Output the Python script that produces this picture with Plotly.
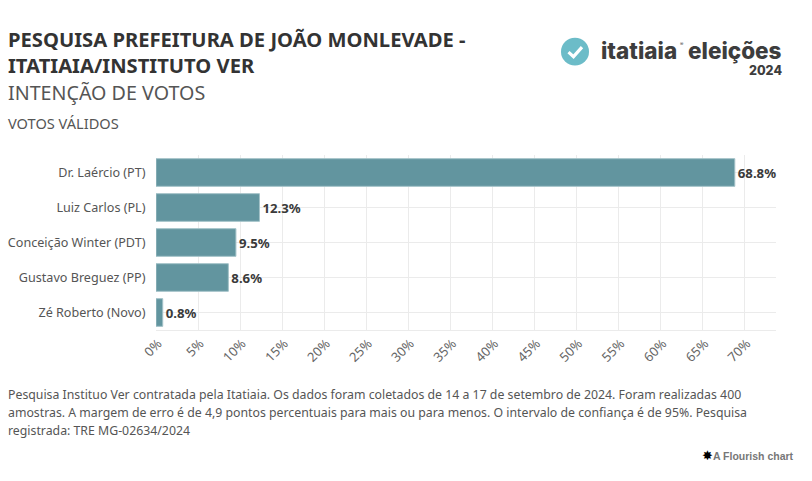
import plotly.graph_objects as go

candidates = ["Dr. Laércio (PT)", "Luiz Carlos (PL)", "Conceição Winter (PDT)", "Gustavo Breguez (PP)", "Zé Roberto (Novo)"]
values = [68.8, 12.3, 9.5, 8.6, 0.8]
labels = ["68.8%", "12.3%", "9.5%", "8.6%", "0.8%"]
ticks = list(range(0, 75, 5))
ticklabels = [f"{t}%" for t in ticks]

W, H = 812, 481
FONT = "Noto Sans"
L, R, T, B = 156, 776, 154.6, 330
def px(x): return (x - L) / (R - L)
def py(y): return (B - y) / (B - T)

fig = go.Figure(go.Bar(
    y=candidates, x=values, orientation="h",
    marker=dict(color="#62959f", line=dict(color="#a3c2c8", width=1)),
    text=labels, textposition="outside", cliponaxis=False,
    textfont=dict(family=FONT, size=13.2, color="#3a3a3a", weight=700),
    width=0.79, hoverinfo="skip",
))

def note(x, y, text, size, color="#333333", weight=400, anchor="left", family=FONT):
    fig.add_annotation(xref="paper", yref="paper", x=px(x), y=py(y), text=text, showarrow=False,
                       xanchor=anchor, yanchor="middle", align="left", borderpad=0, borderwidth=0,
                       font=dict(family=family, size=size, color=color, weight=weight))

note(8, 38.5, "PESQUISA PREFEITURA DE JOÃO MONLEVADE -", 20.2, weight=700)
note(8, 64.5, "ITATIAIA/INSTITUTO VER", 20.2, weight=700)
note(8, 92, "INTENÇÃO DE VOTOS", 19.7, color="#555555")
note(8, 123, "VOTOS VÁLIDOS", 14.6, color="#555555")
note(8, 395, "Pesquisa Instituo Ver contratada pela Itatiaia. Os dados foram coletados de 14 a 17 de setembro de 2024. Foram realizadas 400", 12.3, color="#555555")
note(8, 413, "amostras. A margem de erro é de 4,9 pontos percentuais para mais ou para menos. O intervalo de confiança é de 95%. Pesquisa", 12.3, color="#555555")
note(8, 431, "registrada: TRE MG-02634/2024", 12.3, color="#555555")
note(794, 456, "A Flourish chart", 10.5, color="#777777", weight=700, anchor="right", family="Liberation Sans")
note(707, 456, "✸", 13, color="#000000", anchor="center", family="DejaVu Sans")

# logo
note(601, 50, "itatiaia", 22.5, color="#3d3d3d", weight=800, family="Inter")
note(680, 43, "®", 5, color="#3d3d3d", family="Inter")
note(782, 50, "eleições", 22.5, color="#3d3d3d", weight=800, anchor="right", family="Inter")
note(782, 70, "2024", 12.5, color="#3d3d3d", weight=800, anchor="right", family="Inter")
fig.add_shape(type="circle", xref="paper", yref="paper", x0=px(561), x1=px(589), y0=py(65), y1=py(37),
              fillcolor="#6cbcc8", line_width=0)
fig.add_shape(type="path", xref="paper", yref="paper",
              path=f"M {px(568.5)} {py(51.5)} L {px(573.5)} {py(56)} L {px(582)} {py(46.5)}",
              line=dict(color="white", width=3.2))

fig.update_layout(
    width=W, height=H, paper_bgcolor="white", plot_bgcolor="white", showlegend=False,
    margin=dict(l=L, r=W - R, t=T, b=H - B, pad=0),
    font=dict(family=FONT, color="#555555"),
    xaxis=dict(range=[0, (R - L) / 8.413], tickvals=ticks, ticktext=ticklabels, tickangle=-45, automargin=False,
               showgrid=True, gridcolor="#ebebeb", gridwidth=1, zeroline=False,
               showline=True, linecolor="#ebebeb", ticks="", ticklen=0, ticklabelshift=2,
               tickfont=dict(family=FONT, size=13, color="#666666")),
    yaxis=dict(autorange="reversed", showgrid=True, gridcolor="#ebebeb", zeroline=False, showline=False, automargin=False,
               ticks="outside", ticklen=7, tickcolor="rgba(0,0,0,0)",
               tickfont=dict(family=FONT, size=12.6, color="#555555")),
)
fig.write_html("out.html", config={"displayModeBar": False},
               post_script="document.body.style.margin='0';")
